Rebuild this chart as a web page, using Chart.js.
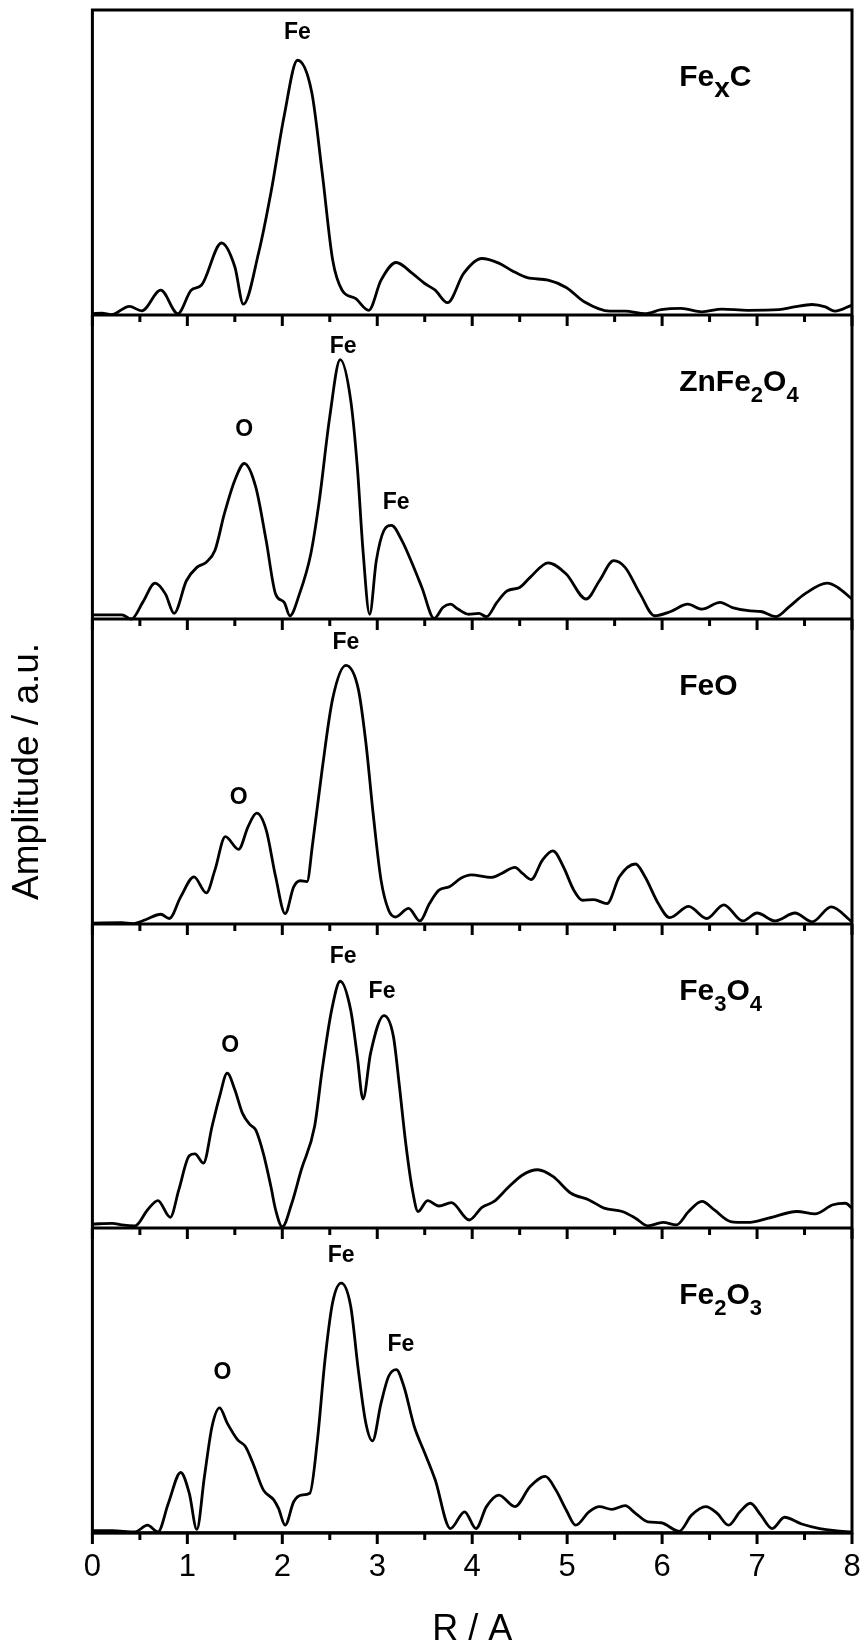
<!DOCTYPE html>
<html>
<head>
<meta charset="utf-8">
<title>Fe K-edge FT amplitude</title>
<script src="https://cdn.jsdelivr.net/npm/chart.js@4/dist/chart.umd.min.js"></script>
<style>
html, body { margin: 0; padding: 0; background: #fff; }
canvas { display: block; }
</style>
</head>
<body>
<canvas id="myChart" width="865" height="1648"></canvas>
<script>
// R values (A) and amplitudes (0-100 of each panel height)
const fexcR = [0, 0.1, 0.2, 0.39, 0.52, 0.72, 0.9, 1.04, 1.15, 1.36, 1.5, 1.59, 1.75, 1.88, 2.02, 2.16, 2.31, 2.42, 2.53, 2.63, 2.77, 2.91, 3.04, 3.2, 3.37, 3.5, 3.61, 3.74, 3.91, 4.1, 4.28, 4.42, 4.58, 4.8, 4.99, 5.18, 5.45, 5.61, 5.82, 5.99, 6.2, 6.42, 6.63, 6.9, 7.23, 7.39, 7.58, 7.72, 7.82, 8.0];
const fexcAmp = [0.3, 0.5, 0, 2.7, 1.2, 8, 0.3, 8, 9.7, 23.5, 15.7, 3.4, 20.2, 40, 65.3, 83.5, 73, 46.6, 18, 8, 5.3, 1.4, 11.3, 17.1, 13.5, 10.2, 8, 3.9, 13.5, 18.4, 16.9, 14.4, 12.1, 11.3, 8.9, 4.2, 1.1, 1.1, 0.3, 1.6, 2, 0.9, 1.8, 1.4, 1.6, 2.5, 3.3, 2.5, 1.1, 3.1];

const znfeR = [0, 0.31, 0.41, 0.53, 0.66, 0.77, 0.86, 0.99, 1.1, 1.2, 1.29, 1.39, 1.5, 1.6, 1.72, 1.83, 1.93, 2.02, 2.08, 2.18, 2.3, 2.39, 2.5, 2.61, 2.72, 2.79, 2.85, 2.92, 2.99, 3.07, 3.15, 3.26, 3.37, 3.47, 3.6, 3.69, 3.77, 3.85, 3.96, 4.07, 4.15, 4.26, 4.37, 4.5, 4.61, 4.8, 4.99, 5.2, 5.34, 5.49, 5.61, 5.77, 5.92, 6.09, 6.27, 6.42, 6.61, 6.74, 6.93, 7.04, 7.2, 7.34, 7.5, 7.74, 7.85, 8.0];
const znfeAmp = [1.4, 1.4, 0, 5.5, 11.8, 8.2, 1.9, 12.6, 17, 18.7, 22.5, 34.6, 45.6, 51.1, 43.4, 25.8, 8.2, 5.5, 1.1, 8.2, 21.4, 39, 66.5, 85.2, 72, 50, 22.5, 1.6, 19.2, 29.1, 30.8, 25.8, 18.1, 10.4, 0.2, 3.8, 4.9, 3.3, 1.6, 1.9, 0.8, 5.5, 9.3, 10.4, 13.7, 18.5, 14.8, 6.6, 12.6, 19.2, 17, 8.2, 1.1, 2.5, 4.9, 3.3, 5.5, 3.8, 2.7, 2.5, 0.8, 4.1, 8.2, 11.8, 10.4, 6.6];

const feoR = [0, 0.31, 0.42, 0.56, 0.72, 0.81, 0.93, 1.07, 1.2, 1.29, 1.4, 1.54, 1.64, 1.73, 1.83, 1.93, 2.03, 2.12, 2.19, 2.26, 2.32, 2.42, 2.53, 2.67, 2.8, 2.88, 2.96, 3.04, 3.12, 3.19, 3.33, 3.45, 3.55, 3.65, 3.76, 3.88, 3.99, 4.2, 4.31, 4.45, 4.53, 4.62, 4.74, 4.85, 4.96, 5.07, 5.16, 5.28, 5.42, 5.55, 5.72, 5.82, 5.96, 6.08, 6.28, 6.47, 6.65, 6.85, 7.0, 7.19, 7.4, 7.58, 7.78, 8.0];
const feoAmp = [0.2, 0.3, 0, 1.3, 3.1, 1.7, 8.8, 15.4, 10.1, 17.6, 28.6, 24.4, 31.9, 36.3, 30.8, 15.4, 3.3, 12.1, 14.1, 13.8, 26.4, 50.7, 73.8, 84.8, 77.1, 59.5, 35.2, 14.3, 4.4, 2.2, 5, 0.9, 6.6, 11, 12.1, 14.9, 16, 15.2, 16.5, 18.5, 16.5, 14.5, 20.9, 23.9, 18.7, 11, 7.7, 7.9, 6.6, 15.4, 19.6, 15.4, 6.6, 2, 5.7, 1.7, 6.2, 0.9, 3.5, 0.9, 3.5, 0.6, 5.5, 0.6];

const fe3o4R = [0, 0.21, 0.31, 0.45, 0.58, 0.69, 0.82, 0.91, 1.02, 1.08, 1.17, 1.26, 1.34, 1.42, 1.5, 1.58, 1.66, 1.72, 1.8, 1.88, 1.93, 2.0, 2.1, 2.2, 2.34, 2.42, 2.52, 2.61, 2.72, 2.79, 2.85, 2.93, 3.07, 3.17, 3.23, 3.3, 3.37, 3.43, 3.53, 3.65, 3.78, 3.97, 4.1, 4.23, 4.37, 4.53, 4.69, 4.85, 5.04, 5.23, 5.39, 5.58, 5.72, 5.85, 6.01, 6.15, 6.28, 6.42, 6.55, 6.72, 6.9, 7.12, 7.42, 7.61, 7.8, 7.93, 8.0];
const fe3o4Amp = [1.4, 1.6, 1.1, 0.8, 6, 9.1, 3.6, 12.6, 23.8, 24.4, 21.4, 33.4, 43.3, 50.9, 45.5, 37.8, 34, 32.3, 24.6, 13.7, 6, 0.5, 8.2, 19.2, 33.4, 52, 71.7, 81.1, 71.7, 56.4, 42.4, 57.5, 69.8, 63, 47.6, 27.9, 12.6, 5.5, 9.1, 7.3, 8.4, 2.7, 6.8, 8.8, 13.1, 17.5, 19.2, 17, 11.5, 9.3, 6.6, 5.5, 3.3, 0.8, 1.9, 1.1, 5.5, 8.8, 6, 2.2, 1.9, 3.3, 5.5, 4.7, 7.7, 8.2, 6.6];

const fe2o3R = [0, 0.21, 0.45, 0.58, 0.69, 0.8, 0.93, 1.02, 1.1, 1.18, 1.26, 1.34, 1.42, 1.53, 1.61, 1.69, 1.8, 1.91, 1.96, 2.03, 2.12, 2.2, 2.29, 2.37, 2.45, 2.53, 2.62, 2.72, 2.8, 2.88, 2.95, 3.04, 3.12, 3.2, 3.28, 3.39, 3.5, 3.61, 3.77, 3.92, 4.04, 4.15, 4.28, 4.45, 4.61, 4.77, 4.88, 4.99, 5.09, 5.23, 5.34, 5.47, 5.61, 5.72, 5.85, 5.99, 6.18, 6.31, 6.46, 6.58, 6.7, 6.82, 6.93, 7.04, 7.16, 7.29, 7.47, 7.66, 7.82, 8.0];
const fe2o3Amp = [0.7, 0.7, 0.3, 2.5, 0.3, 9.7, 19.8, 13, 1.1, 18.5, 34.9, 41, 36, 30.5, 28.4, 22.9, 14.1, 10.8, 8, 2.5, 10.2, 12.4, 13, 30.5, 56.9, 75.6, 82, 74.5, 53.6, 36, 30.2, 42.6, 51.4, 53.6, 48.1, 34.9, 26.2, 17.4, 1.4, 6.9, 1.4, 8.6, 12.4, 8.6, 15.2, 18.5, 14.1, 7.5, 2.5, 6.9, 8.6, 7.7, 8.9, 6.4, 3.6, 3.3, 0.5, 5.8, 8.6, 6.4, 2.5, 6.9, 9.7, 5.8, 1.4, 5.1, 2.9, 1.4, 0.7, 0.3];

// panel names, "_" marks a one-character subscript
const sampleNames = ['Fe_xC', 'ZnFe_2O_4', 'FeO', 'Fe_3O_4', 'Fe_2O_3'];

// peak assignments: [text, R, amplitude]
const fexcPeaks = [['Fe', 2.16, 92.5]];
const znfePeaks = [['O', 1.6, 62.1], ['Fe', 2.64, 89.5], ['Fe', 3.2, 38.1]];
const feoPeaks = [['Fe', 2.67, 92.4], ['O', 1.54, 41.5]];
const fe3o4Peaks = [['Fe', 2.64, 89.1], ['Fe', 3.05, 77.8], ['O', 1.45, 60.1]];
const fe2o3Peaks = [['Fe', 2.62, 91.1], ['Fe', 3.25, 61.8], ['O', 1.37, 52.5]];

const xTicks = [0, 1, 2, 3, 4, 5, 6, 7, 8];

const allR = [fexcR, znfeR, feoR, fe3o4R, fe2o3R];
const allAmp = [fexcAmp, znfeAmp, feoAmp, fe3o4Amp, fe2o3Amp];
const allPeaks = [fexcPeaks, znfePeaks, feoPeaks, fe3o4Peaks, fe2o3Peaks];
// top panel first
const axisIds = ['y1', 'y2', 'y3', 'y4', 'y5'];

const fontFamily = 'Arial, "Liberation Sans", Helvetica, sans-serif';
Chart.defaults.font.family = fontFamily;
Chart.defaults.color = '#000';

const datasets = allR.map(function(rs, i) {
    return {
        label: sampleNames[i],
        data: rs.map(function(r, j) { return {x: r, y: allAmp[i][j]}; }),
        xAxisID: 'x',
        yAxisID: axisIds[i],
        borderColor: '#000',
        borderWidth: 2.8,
        pointRadius: 0,
        fill: false,
        cubicInterpolationMode: 'monotone',
        clip: false
    };
});

const scales = {
    x: {
        type: 'linear',
        position: 'bottom',
        min: 0,
        max: 8,
        afterBuildTicks: function(axis) {
            axis.ticks = xTicks.map(function(v) { return {value: v}; });
        },
        ticks: { font: {size: 31}, color: '#000', padding: 0, maxRotation: 0 },
        // invisible tick marks only push the labels down
        grid: { display: true, drawOnChartArea: false, drawTicks: true, tickLength: 16, tickColor: 'rgba(0,0,0,0)' },
        border: { display: false },
        title: { display: true, text: 'R / A', font: {size: 36, lineHeight: 1.0}, color: '#000', padding: {top: 26, bottom: 0} }
    }
};

// stacked axes are laid out bottom-up, so add the bottom panel first
for (let i = axisIds.length - 1; i >= 0; i--) {
    scales[axisIds[i]] = {
        type: 'linear',
        position: 'left',
        stack: 'panels',
        stackWeight: 1,
        offset: false,
        min: 0,
        max: 100,
        ticks: { display: false },
        grid: { display: false, drawTicks: false },
        border: { display: false },
        title: i === 2
            ? { display: true, text: 'Amplitude / a.u.', font: {size: 37}, color: '#000', padding: {top: 6, bottom: 42} }
            : { display: false }
    };
}

// frame, panel separators, minor/major ticks and text labels
const panelDecor = {
    id: 'panelDecor',
    afterDraw: function(chart) {
        const c = chart.ctx;
        const xs = chart.scales.x;
        const area = chart.chartArea;
        c.save();
        c.strokeStyle = '#000';
        c.fillStyle = '#000';

        axisIds.forEach(function(id, i) {
            const ys = chart.scales[id];
            const yb = Math.round(ys.bottom);

            for (let k = 0; k <= 16; k++) {
                const px = xs.getPixelForValue(k / 2);
                const len = k % 2 === 0 ? 11 : 7;
                c.fillRect(px - 1.5, yb, 3, len);
            }

            c.lineWidth = 3;
            c.beginPath();
            c.moveTo(area.left, yb);
            c.lineTo(area.right, yb);
            c.stroke();

            c.font = 'bold 23px ' + fontFamily;
            c.textAlign = 'center';
            c.textBaseline = 'middle';
            allPeaks[i].forEach(function(p) {
                c.fillText(p[0], xs.getPixelForValue(p[1]), ys.getPixelForValue(p[2]));
            });

            // sample name with subscripts
            let tx = xs.getPixelForValue(6.18);
            const ty = ys.getPixelForValue(75);
            const name = sampleNames[i];
            c.textAlign = 'left';
            c.textBaseline = 'alphabetic';
            for (let k = 0; k < name.length; k++) {
                let ch = name[k];
                let sub = false;
                if (ch === '_') {
                    k++;
                    ch = name[k];
                    sub = true;
                }
                let size = 30;
                if (sub) {
                    size = /[0-9]/.test(ch) ? 22 : 28;
                }
                c.font = 'bold ' + size + 'px ' + fontFamily;
                c.fillText(ch, tx, sub ? ty + 11 : ty);
                tx += c.measureText(ch).width;
            }
        });

        c.lineWidth = 3;
        c.strokeRect(area.left, area.top, area.right - area.left, area.bottom - area.top);
        c.restore();
    }
};

const ctx = document.getElementById('myChart').getContext('2d');
const myChart = new Chart(ctx, {
    type: 'line',
    data: { datasets: datasets },
    options: {
        responsive: false,
        devicePixelRatio: 1,
        animation: false,
        events: [],
        layout: { padding: {left: 0, right: 13, top: 10, bottom: 0} },
        scales: scales,
        plugins: {
            legend: { display: false },
            tooltip: { enabled: false }
        }
    },
    plugins: [panelDecor]
});
</script>
</body>
</html>
